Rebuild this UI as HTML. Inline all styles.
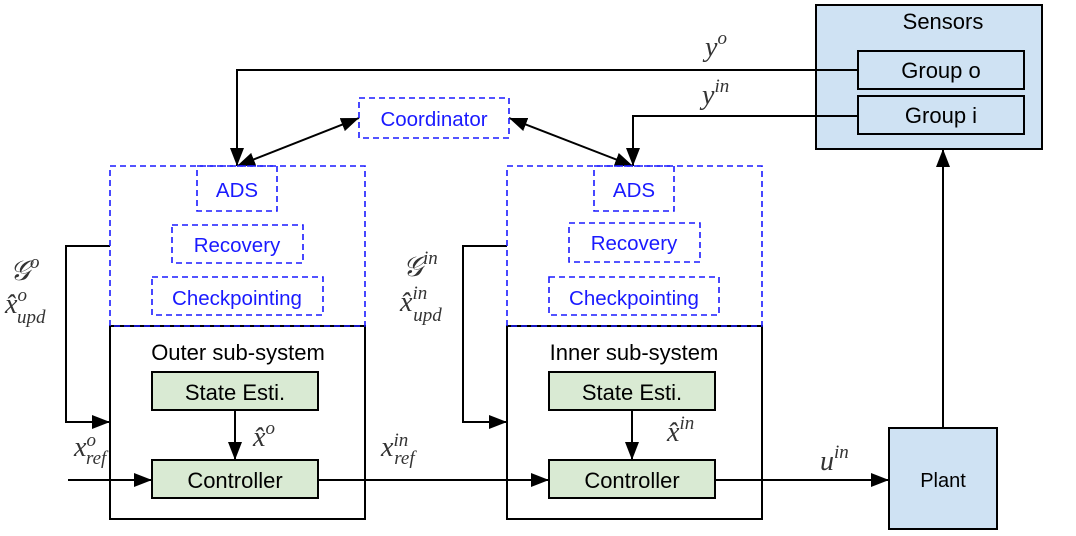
<!DOCTYPE html>
<html><head><meta charset="utf-8"><style>
html,body{margin:0;padding:0;background:#fff;}
svg{display:block;}
.s{font-family:"Liberation Sans",sans-serif;}
.m{font-family:"Liberation Serif",serif;font-style:italic;fill:#333;}
</style></head><body>
<svg width="1076" height="536" viewBox="0 0 1076 536" xmlns="http://www.w3.org/2000/svg">
<defs>
<marker id="b" viewBox="0 0 10 10" refX="10" refY="5" markerWidth="18" markerHeight="14" markerUnits="userSpaceOnUse" orient="auto-start-reverse" preserveAspectRatio="none">
<path d="M0,0 L10,5 L0,10 z" fill="#000"/></marker>
</defs>
<g stroke="#000" stroke-width="2" fill="none">
<rect x="816" y="5" width="226" height="144" fill="#cfe2f3"/>
<rect x="858" y="51" width="166" height="38" fill="#cfe2f3"/>
<rect x="858" y="96" width="166" height="38" fill="#cfe2f3"/>
<rect x="889" y="428" width="108" height="101" fill="#cfe2f3"/>
<rect x="110" y="326" width="255" height="193"/>
<rect x="507" y="326" width="255" height="193"/>
<rect x="152" y="372" width="166" height="38" fill="#d9ead3"/>
<rect x="152" y="460" width="166" height="38" fill="#d9ead3"/>
<rect x="549" y="372" width="166" height="38" fill="#d9ead3"/>
<rect x="549" y="460" width="166" height="38" fill="#d9ead3"/>
<polyline points="858,70 237,70 237,166" marker-end="url(#b)"/>
<polyline points="858,116 633,116 633,166" marker-end="url(#b)"/>
<line x1="359" y1="118" x2="237" y2="166" marker-start="url(#b)" marker-end="url(#b)"/>
<line x1="509" y1="118" x2="633" y2="166" marker-start="url(#b)" marker-end="url(#b)"/>
<polyline points="110,246 66,246 66,422 110,422" marker-end="url(#b)"/>
<polyline points="507,246 463,246 463,422 507,422" marker-end="url(#b)"/>
<line x1="68" y1="480" x2="152" y2="480" marker-end="url(#b)"/>
<line x1="318" y1="480" x2="549" y2="480" marker-end="url(#b)"/>
<line x1="715" y1="480" x2="889" y2="480" marker-end="url(#b)"/>
<line x1="943" y1="428" x2="943" y2="149" marker-end="url(#b)"/>
<line x1="235" y1="410" x2="235" y2="460" marker-end="url(#b)"/>
<line x1="632" y1="410" x2="632" y2="460" marker-end="url(#b)"/>
</g>
<g stroke="#1a1aff" stroke-width="1.6" fill="none" stroke-dasharray="6,4">
<rect x="359" y="98" width="150" height="40"/>
<rect x="110" y="166" width="255" height="160"/>
<rect x="507" y="166" width="255" height="160"/>
<rect x="197" y="166" width="80" height="45"/>
<rect x="172" y="225" width="131" height="38"/>
<rect x="152" y="277" width="171" height="38"/>
<rect x="594" y="166" width="80" height="45"/>
<rect x="569" y="223" width="131" height="39"/>
<rect x="549" y="277" width="170" height="38"/>
</g>
<g class="s" font-size="22" text-anchor="middle" fill="#000">
<text x="943" y="29">Sensors</text>
<text x="941" y="78">Group o</text>
<text x="941" y="123">Group i</text>
<text x="634" y="360">Inner sub-system</text>
<text x="238" y="360">Outer sub-system</text>
<text x="235" y="400">State Esti.</text>
<text x="235" y="488">Controller</text>
<text x="632" y="400">State Esti.</text>
<text x="632" y="488">Controller</text>
</g>
<text class="s" x="943" y="487" font-size="20" text-anchor="middle">Plant</text>
<g class="s" font-size="20.5" text-anchor="middle" fill="#1a1aff">
<text x="434" y="126">Coordinator</text>
<text x="237" y="197">ADS</text>
<text x="237" y="252">Recovery</text>
<text x="237" y="305">Checkpointing</text>
<text x="634" y="197">ADS</text>
<text x="634" y="250">Recovery</text>
<text x="634" y="305">Checkpointing</text>
</g>
<g class="m" font-size="28">
<text x="705" y="56">y<tspan font-size="19" dy="-12">o</tspan></text>
<text x="702" y="104">y<tspan font-size="19" dy="-12">in</tspan></text>
<text x="10" y="280">𝒢<tspan font-size="19" dy="-12">o</tspan></text>
<text x="5" y="313">x̂<tspan font-size="19" dy="-12">o</tspan><tspan font-size="19" dx="-10" dy="22">upd</tspan></text>
<text x="403" y="276">𝒢<tspan font-size="19" dy="-12">in</tspan></text>
<text x="400" y="311">x̂<tspan font-size="19" dy="-12">in</tspan><tspan font-size="19" dx="-14" dy="22">upd</tspan></text>
<text x="74" y="456">x<tspan font-size="19" dy="-10">o</tspan><tspan font-size="19" dx="-10" dy="18">ref</tspan></text>
<text x="381" y="456">x<tspan font-size="19" dy="-10">in</tspan><tspan font-size="19" dx="-14" dy="18">ref</tspan></text>
<text x="253" y="446">x̂<tspan font-size="19" dy="-12">o</tspan></text>
<text x="667" y="441">x̂<tspan font-size="19" dy="-12">in</tspan></text>
<text x="820" y="470">u<tspan font-size="19" dy="-12">in</tspan></text>
</g>
</svg>
</body></html>
